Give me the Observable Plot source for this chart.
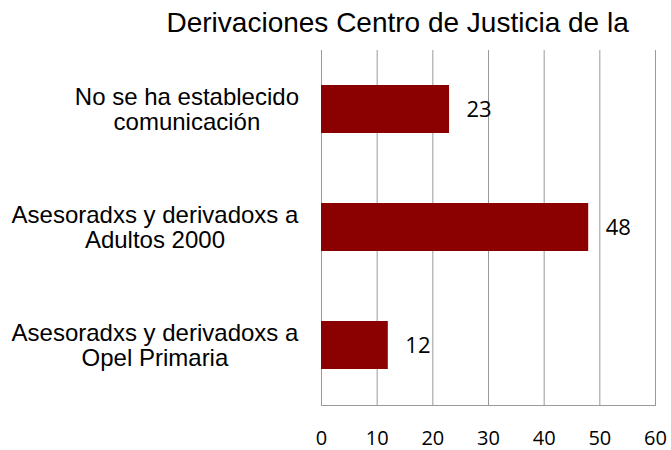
<!DOCTYPE html>
<html><head><meta charset="utf-8">
<script src="https://cdn.jsdelivr.net/npm/d3@7"></script>
<script src="https://cdn.jsdelivr.net/npm/@observablehq/plot@0.6"></script>
<style>body{margin:0;background:#fff;} #chart{position:relative;width:671px;height:450px;}</style>
</head><body><div id="chart"></div>
<script>
const title = "Derivaciones Centro de Justicia de la";
const categories = ["No se ha establecido\ncomunicación", "Asesoradxs y derivadoxs a\nAdultos 2000", "Asesoradxs y derivadoxs a\nOpel Primaria"];
const values = [23, 48, 12];
const xTicks = [0, 10, 20, 30, 40, 50, 60];
const data = categories.map((c, i) => ({category: c, value: values[i]}));

const numFont = "'Open Sans', Lato, sans-serif";
const plot = Plot.plot({
  width: 671, height: 450,
  marginLeft: 321, marginRight: 16, marginTop: 50, marginBottom: 45,
  style: {fontFamily: "'Liberation Sans', Arial, sans-serif", background: "#fff", color: "#000"},
  x: {domain: [0, 60], ticks: xTicks},
  y: {domain: categories, paddingInner: 0.59, paddingOuter: 0.295},
  marks: [
    Plot.gridX(xTicks, {stroke: "#9a9a9a", strokeOpacity: 1, strokeWidth: 1}),
    Plot.frame({anchor: "bottom", stroke: "#9a9a9a"}),
    Plot.barX(data, {x: "value", y: "category", fill: "#8B0000"}),
    Plot.text(data, {x: "value", y: "category", text: d => String(d.value), textAnchor: "start", dx: 17, fontSize: 22, fontFamily: numFont, fill: "#000"}),
    Plot.axisX(xTicks, {tickSize: 0, tickPadding: 25, fontSize: 20, fontFamily: numFont, label: null}),
    Plot.axisY({tickSize: 0, tickPadding: 22, fontSize: 24, lineHeight: 1.06, textAnchor: "middle", label: null}),
    Plot.text([title], {text: d => d, frameAnchor: "top-left", dx: -155, dy: -27, textAnchor: "start", lineAnchor: "middle", fontSize: 28, fill: "#000"})
  ]
});
document.getElementById("chart").appendChild(plot);

// right-align each centered multi-line category label block against the axis
const svgRect = plot.getBoundingClientRect();
const rightEdge = 299;
plot.querySelectorAll('g[aria-label="y-axis tick label"] text').forEach(t => {
  const r = t.getBoundingClientRect();
  const shift = rightEdge - (r.right - svgRect.left);
  t.setAttribute("transform", (t.getAttribute("transform") || "") + ` translate(${shift},0)`);
});
</script>
</body></html>
